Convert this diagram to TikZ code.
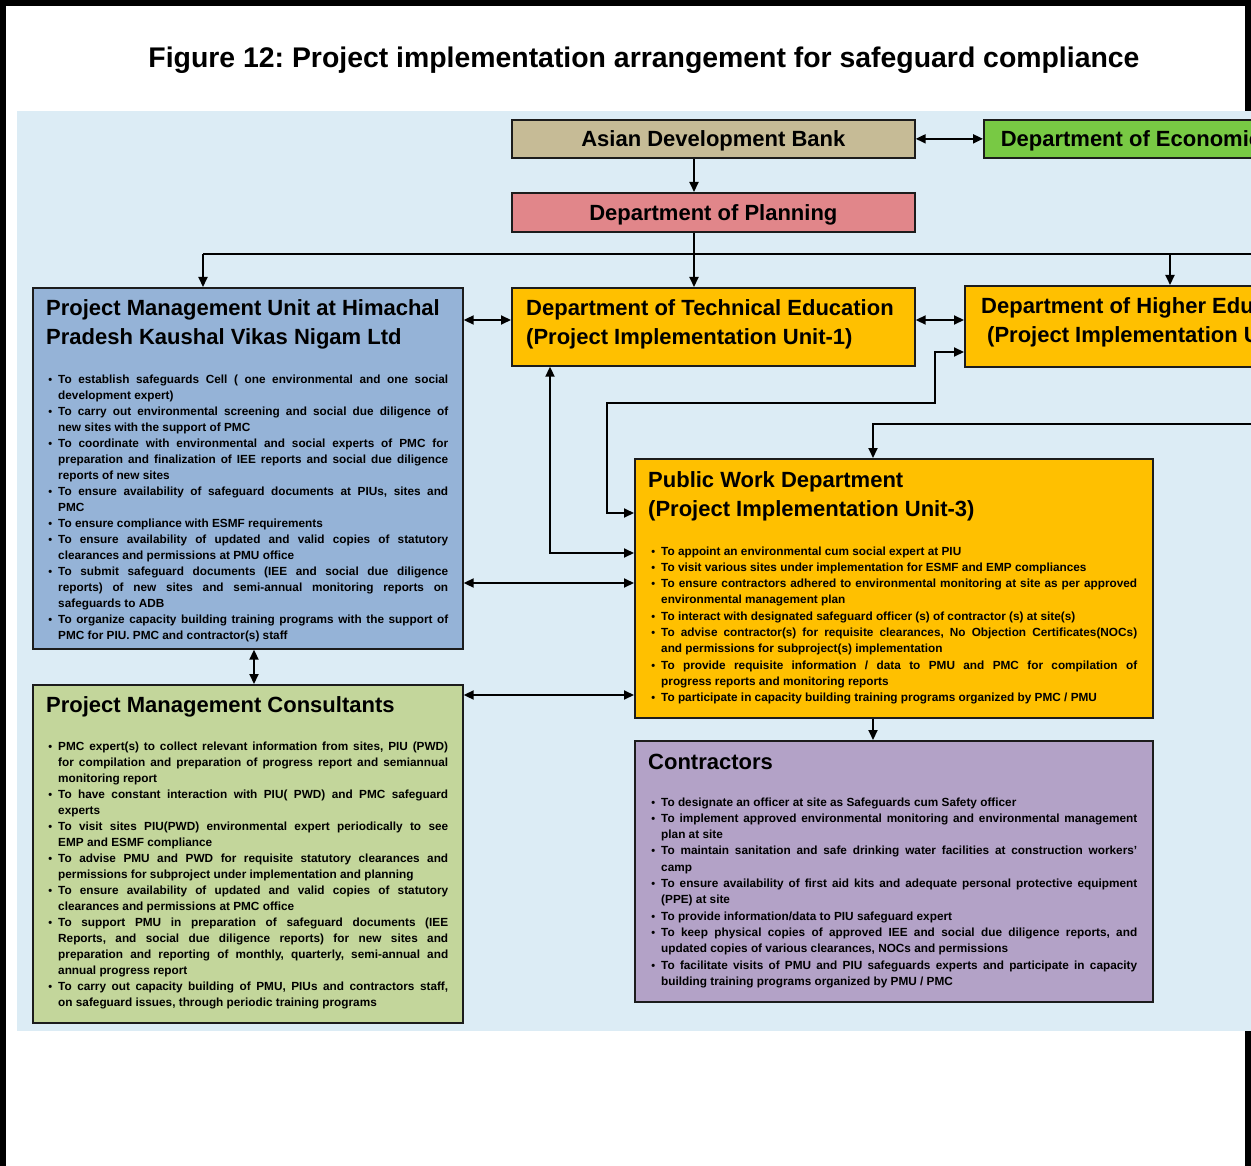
\documentclass[tikz,border=0pt]{standalone}
\usepackage{fontspec}
\setmainfont{Liberation Sans}
\usepackage{xcolor}
\usepackage{tikz}
\usetikzlibrary{calc,arrows.meta}
\frenchspacing
\definecolor{sheetBlue}{HTML}{DCECF5}
\definecolor{adbTan}{HTML}{C6BB96}
\definecolor{deaGreen}{HTML}{78C944}
\definecolor{dopPink}{HTML}{E1868A}
\definecolor{pmuBlue}{HTML}{95B3D7}
\definecolor{piuOrange}{HTML}{FFC000}
\definecolor{pmcGreen}{HTML}{C3D69B}
\definecolor{conLilac}{HTML}{B3A2C7}
\definecolor{boxLine}{HTML}{1C1C1C}
\newcommand{\dutysetup}{\tolerance=9999 \hyphenpenalty=10000 \exhyphenpenalty=10000\relax}
\newcommand{\duty}{\par\noindent\strut\llap{{\fontsize{11}{11}\selectfont\textbullet}\hspace{6pt}}}
\tikzset{
  orgbox/.style={rectangle, draw=boxLine, fill=#1, line width=1.7pt, inner sep=0pt, anchor=north west},
  headfont/.style={font=\fontsize{22}{29}\selectfont\bfseries},
  bannertext/.style={headfont, text height=16pt, text depth=0.5pt},
  headtext/.style={headfont, align=left, inner sep=0pt, anchor=north west},
  dutytext/.style 2 args={font=\fontsize{11.8}{#2}\selectfont\bfseries\dutysetup, text width=#1, align=justify, inner sep=0pt, anchor=north west},
  linkarrow/.style={{Triangle[length=10pt,width=9pt]}-{Triangle[length=10pt,width=9pt]}, line width=2pt, draw=black},
  feedarrow/.style={-{Triangle[length=10pt,width=9pt]}, line width=2pt, draw=black},
  busline/.style={line width=2pt, draw=black},
}

\begin{document}
\begin{tikzpicture}[x=1pt,y=-1pt]
  \useasboundingbox (0,0) rectangle (1251,1166);
  \draw[line width=6pt] (3,1166) -- (3,3) -- (1248,3) -- (1248,1166);
  \node[font=\fontsize{28.4}{34}\selectfont\bfseries, inner sep=0pt] (caption) at (644,60) {Figure 12: Project implementation arrangement for safeguard compliance};
  \fill[sheetBlue] (17,111) rectangle (1251,1031);

  \begin{scope}
    \clip (17,111) rectangle (1251,1031);
    % --- boxes ---
    \node[orgbox=adbTan, bannertext, minimum width=403pt, minimum height=38pt] (adb) at (511,119) {Asian Development Bank};
    \node[orgbox=deaGreen, bannertext, minimum width=370pt, minimum height=38pt] (dea) at (983,119) {Department of Economic Affairs};
    \node[orgbox=dopPink, bannertext, minimum width=403pt, minimum height=39pt] (dop) at (511,192) {Department of Planning};
    \node[orgbox=piuOrange, minimum width=403pt, minimum height=78pt] (dte) at (511,287) {};
    \node[orgbox=piuOrange, minimum width=420pt, minimum height=81pt] (dhe) at (964,285) {};
    \node[orgbox=pmuBlue, minimum width=430pt, minimum height=361pt] (pmu) at (32,287) {};
    \node[orgbox=pmcGreen, minimum width=430pt, minimum height=338pt] (pmc) at (32,684) {};
    \node[orgbox=piuOrange, minimum width=518pt, minimum height=259pt] (pwd) at (634,458) {};
    \node[orgbox=conLilac, minimum width=518pt, minimum height=261pt] (con) at (634,740) {};

    \node[headtext] (dtehead) at ($(dte.north west)+(15,12)$) {Department of Technical Education\\(Project Implementation Unit-1)};
    \node[headtext] (dhehead) at ($(dhe.north west)+(17,12)$) {Department of Higher Education\\\hspace*{6pt}(Project Implementation Unit-2)};
    \node[headtext] (pmuhead) at ($(pmu.north west)+(14,12)$) {Project Management Unit at Himachal\\Pradesh Kaushal Vikas Nigam Ltd};
    \node[headtext] (pmchead) at ($(pmc.north west)+(14,12)$) {Project Management Consultants};
    \node[headtext] (pwdhead) at ($(pwd.north west)+(14,13)$) {Public Work Department\\(Project Implementation Unit-3)};
    \node[headtext] (conhead) at ($(con.north west)+(14,14)$) {Contractors};

    \node[dutytext={390pt}{16pt}] (pmuduty) at ($(pmu.north west)+(26,80.5)$) {%
      \duty To establish safeguards Cell ( one environmental and one social\linebreak development expert)
      \duty To carry out environmental screening and social due diligence of\linebreak new sites with the support of PMC
      \duty To coordinate with environmental and social experts of PMC for\linebreak preparation and finalization of IEE reports and social due diligence\linebreak reports of new sites
      \duty To ensure availability of safeguard documents at PIUs, sites and\linebreak PMC
      \duty To ensure compliance with ESMF requirements
      \duty To ensure availability of updated and valid copies of statutory\linebreak clearances and permissions at PMU office
      \duty To submit safeguard documents (IEE and social due diligence\linebreak reports) of new sites and semi-annual monitoring reports on\linebreak safeguards to ADB
      \duty To organize capacity building training programs with the support of\linebreak PMC for PIU. PMC and contractor(s) staff};

    \node[dutytext={390pt}{16pt}] (pmcduty) at ($(pmc.north west)+(26,50.5)$) {%
      \duty PMC expert(s) to collect relevant information from sites, PIU (PWD)\linebreak for compilation and preparation of progress report and semiannual\linebreak monitoring report
      \duty To have constant interaction with PIU( PWD) and PMC safeguard\linebreak experts
      \duty To visit sites PIU(PWD) environmental expert periodically to see\linebreak EMP and ESMF compliance
      \duty To advise PMU and PWD for requisite statutory clearances and\linebreak permissions for subproject under implementation and planning
      \duty To ensure availability of updated and valid copies of statutory\linebreak clearances and permissions at PMC office
      \duty To support PMU in preparation of safeguard documents (IEE\linebreak Reports, and social due diligence reports) for new sites and\linebreak preparation and reporting of monthly, quarterly, semi-annual and\linebreak annual progress report
      \duty To carry out capacity building of PMU, PIUs and contractors staff,\linebreak on safeguard issues, through periodic training programs};

    \node[dutytext={476pt}{16.3pt}] (pwdduty) at ($(pwd.north west)+(27,80.5)$) {%
      \duty To appoint an environmental cum social expert at PIU
      \duty To visit various sites under implementation for ESMF and EMP compliances
      \duty To ensure contractors adhered to environmental monitoring at site as per approved\linebreak environmental management plan
      \duty To interact with designated safeguard officer (s) of contractor (s) at site(s)
      \duty To advise contractor(s) for requisite clearances, No Objection Certificates(NOCs)\linebreak and permissions for subproject(s) implementation
      \duty To provide requisite information / data to PMU and PMC for compilation of\linebreak progress reports and monitoring reports
      \duty To participate in capacity building training programs organized by PMC / PMU};

    \node[dutytext={476pt}{16.3pt}] (conduty) at ($(con.north west)+(27,49.5)$) {%
      \duty To designate an officer at site as Safeguards cum Safety officer
      \duty To implement approved environmental monitoring and environmental management\linebreak plan at site
      \duty To maintain sanitation and safe drinking water facilities at construction workers'\linebreak camp
      \duty To ensure availability of first aid kits and adequate personal protective equipment\linebreak (PPE) at site
      \duty To provide information/data to PIU safeguard expert
      \duty To keep physical copies of approved IEE and social due diligence reports, and\linebreak updated copies of various clearances, NOCs and permissions
      \duty To facilitate visits of PMU and PIU safeguards experts and participate in capacity\linebreak building training programs organized by PMU / PMC};

    % --- connectors ---
    \coordinate (trunk) at (694,254);
    \coordinate (busW) at (203,254);
    \coordinate (busE) at (1251,254);
    \coordinate (dhedrop) at (1170,254);
    \coordinate (row1) at (0,320);
    \coordinate (row2) at (0,583);
    \coordinate (row3) at (0,695);
    \coordinate (col1) at (254,0);
    \coordinate (dtedrop) at (550,553);
    \coordinate (tapL) at (607,513);
    \coordinate (tapR) at (935,403);
    \coordinate (tapH) at (935,352);
    \coordinate (feedE) at (1251,424);
    \coordinate (feedX) at (873,424);

    \draw[feedarrow] (adb.south -| trunk) -- (dop.north -| trunk);
    \draw[feedarrow] (dop.south -| trunk) -- (dte.north -| trunk);
    \draw[busline] (busW) -- (busE);
    \draw[feedarrow] (busW) -- (pmu.north -| busW);
    \draw[feedarrow] (dhedrop) -- (dhe.north -| dhedrop);
    \draw[linkarrow] (adb.east) -- (dea.west);
    \foreach \a/\b/\r in {pmu/dte/row1, dte/dhe/row1, pmu/pwd/row2, pmc/pwd/row3} { \draw[linkarrow] (\a.east |- \r) -- (\b.west |- \r); }
    \draw[linkarrow] (pmu.south -| col1) -- (pmc.north -| col1);
    \draw[linkarrow] (dte.south -| dtedrop) |- (pwd.west |- dtedrop);
    \draw[linkarrow] (pwd.west |- tapL) -- (tapL) |- (tapR) |- (dhe.west |- tapH);
    \draw[feedarrow] (feedE) -- (feedX) -- (pwd.north -| feedX);
    \draw[feedarrow] (pwd.south -| feedX) -- (con.north -| feedX);
  \end{scope}
\end{tikzpicture}
\end{document}
